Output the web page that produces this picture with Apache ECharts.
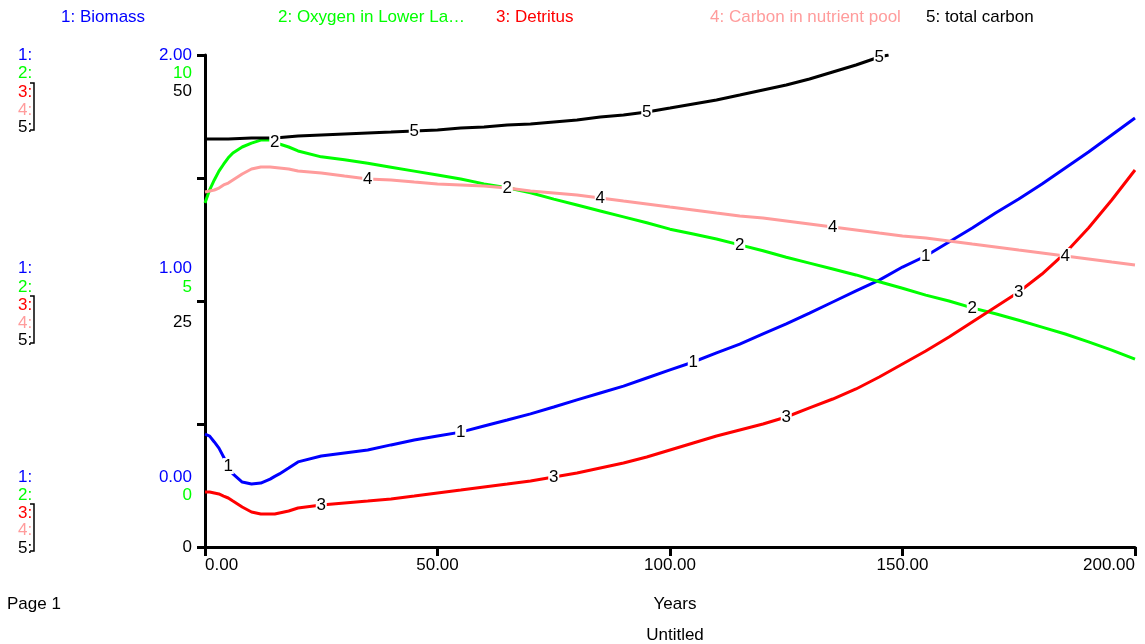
<!DOCTYPE html>
<html><head><meta charset="utf-8">
<script src="https://cdn.jsdelivr.net/npm/echarts/dist/echarts.min.js"></script>
<style>html,body{margin:0;padding:0;background:#fff}#c{width:1145px;height:644px}</style>
</head><body><div id="c"></div>
<script>
// ---- data ----
const years = [0,1,2,3,4,5,6,8,10,12,14,15,16,18,20,25,30,35,40,45,50,55,60,65,70,75,80,85,90,95,100,105,110,115,120,125,130,135,140,145,150,155,160,165,170,175,180,185,190,195,200];
const biomass = [0.459,0.451,0.427,0.402,0.366,0.329,0.297,0.264,0.256,0.260,0.276,0.287,0.297,0.321,0.346,0.370,0.382,0.394,0.415,0.435,0.451,0.467,0.492,0.516,0.541,0.569,0.598,0.626,0.654,0.687,0.720,0.752,0.789,0.825,0.866,0.907,0.951,0.996,1.041,1.085,1.138,1.183,1.240,1.297,1.358,1.415,1.476,1.541,1.606,1.675,1.744];
const oxygen = [6.99,7.26,7.46,7.64,7.78,7.91,8.01,8.13,8.21,8.27,8.27,8.23,8.19,8.13,8.05,7.93,7.87,7.80,7.72,7.64,7.56,7.48,7.38,7.30,7.20,7.07,6.95,6.83,6.71,6.59,6.46,6.36,6.26,6.14,6.02,5.89,5.77,5.65,5.53,5.39,5.26,5.12,5.00,4.86,4.74,4.61,4.47,4.33,4.17,4.00,3.82];
const detritus = [5.59,5.59,5.49,5.39,5.18,4.98,4.67,4.07,3.56,3.35,3.35,3.35,3.46,3.66,3.96,4.27,4.47,4.67,4.88,5.18,5.49,5.79,6.10,6.40,6.71,7.11,7.52,8.03,8.54,9.15,9.86,10.57,11.28,11.89,12.50,13.21,14.13,15.04,16.06,17.28,18.60,19.92,21.34,22.87,24.39,25.91,27.74,29.88,32.42,35.26,38.31];
const nutrientPool = [36.08,36.18,36.28,36.48,36.79,36.99,37.30,37.91,38.41,38.62,38.62,38.57,38.52,38.41,38.21,38.01,37.70,37.40,37.30,37.09,36.89,36.79,36.69,36.48,36.18,35.98,35.77,35.47,35.16,34.86,34.55,34.25,33.94,33.64,33.43,33.13,32.83,32.52,32.22,31.91,31.61,31.40,31.10,30.79,30.49,30.18,29.88,29.57,29.27,28.96,28.66];
const carbonYears = [0,5,10,15,20,25,30,35,40,45,50,55,60,65,70,75,80,85,90,95,100,105,110,115,120,125,130,135,140,145,147];
const totalCarbon = [41.46,41.46,41.57,41.57,41.77,41.87,41.97,42.07,42.17,42.28,42.38,42.58,42.68,42.89,42.99,43.19,43.39,43.70,43.90,44.21,44.61,45.02,45.43,45.93,46.44,46.95,47.56,48.27,48.98,49.80,50.00];

const seriesNames = ['1: Biomass','2: Oxygen in Lower La\u2026','3: Detritus','4: Carbon in nutrient pool','5: total carbon'];
const xTickLabels = ['0.00','50.00','100.00','150.00','200.00'];
const scaleTop = ['2.00','10','50'];
const scaleMid = ['1.00','5','25'];
const scaleBot = ['0.00','0','0'];
const labelTimes = [[5,55,105,155],[15,65,115,165],[25,75,125,175],[35,85,135,185],[45,95,145]];

// ---- chart ----
const FONT = '"Liberation Sans", Arial, sans-serif';
const FS = 17;
const colors = ['#0000ff','#00ff00','#ff0000','#ff9c9c','#000000'];
const chart = echarts.init(document.getElementById('c'), null, {renderer:'canvas'});

function pairs(ts, vs){ return ts.map((t,i)=>[t, vs[i]]); }
function marks(ts, vs, lts, txt){
  return {
    symbol:'rect', symbolSize:[11,16], itemStyle:{color:'#fff'}, z:10, silent:true, animation:false,
    label:{show:true, position:'inside', formatter:txt, color:'#000', fontSize:FS, fontFamily:FONT},
    data: lts.map(t=>({coord:[t, vs[ts.indexOf(t)]]}))
  };
}
const defs = [
  [years, biomass, 0], [years, oxygen, 1], [years, detritus, 2], [years, nutrientPool, 2], [carbonYears, totalCarbon, 2]
];
const series = defs.map((d,k)=>({
  name: seriesNames[k], type:'line', yAxisIndex:d[2], showSymbol:false, smooth:false,
  lineStyle:{color:colors[k], width:3}, itemStyle:{color:colors[k]},
  data: pairs(d[0], d[1]), z: 3,
  markPoint: marks(d[0], d[1], labelTimes[k], String(k+1))
}));

const graphic = [];
function txt(x,y,s,color,align){
  graphic.push({type:'text', x:x, y:y, silent:true, style:{text:s, fill:color, font:FS+'px '+FONT, textAlign:align||'left', textVerticalAlign:'middle'}});
}
// legend
const legendX = [61,278,496,710,926];
seriesNames.forEach((n,k)=>txt(legendX[k],17,n,colors[k]));
// left scale index columns
const groupY = [[55,73,92,110,127],[268,287,305,323,340],[477,495,513,530,548]];
groupY.forEach(g=>{
  g.forEach((y,k)=>txt(18,y,(k+1)+':',colors[k]));
  graphic.push({type:'polyline', silent:true, shape:{points:[[30,g[2]-9],[34,g[2]-9],[34,g[4]+3],[30,g[4]+3]]}, style:{stroke:'#000', lineWidth:1.5, fill:null}});
});
// scale values
txt(192,55,scaleTop[0],colors[0],'right'); txt(192,73,scaleTop[1],colors[1],'right'); txt(192,91,scaleTop[2],'#000','right');
txt(192,268,scaleMid[0],colors[0],'right'); txt(192,287,scaleMid[1],colors[1],'right'); txt(192,322,scaleMid[2],'#000','right');
txt(192,477,scaleBot[0],colors[0],'right'); txt(192,495,scaleBot[1],colors[1],'right'); txt(192,547,scaleBot[2],'#000','right');
// footer
txt(7,604,'Page 1','#000');
txt(675,604,'Years','#000','center');
txt(675,635,'Untitled','#000','center');

chart.setOption({
  animation:false,
  backgroundColor:'#fff',
  grid:{left:205, right:10, top:55, bottom:97, containLabel:false},
  xAxis:{type:'value', min:0, max:200, interval:50,
    axisLine:{show:true, lineStyle:{color:'#000', width:3}},
    axisTick:{show:true, length:9, lineStyle:{color:'#000', width:3}},
    axisLabel:{color:'#000', fontSize:FS, fontFamily:FONT, margin:10,
      formatter:(v)=>xTickLabels[Math.round(v/50)], alignMinLabel:'left', alignMaxLabel:'right'},
    splitLine:{show:false}},
  yAxis:[
    {type:'value', min:0, max:2, interval:0.5,
      axisLine:{show:true, lineStyle:{color:'#000', width:3}},
      axisTick:{show:true, length:8, lineStyle:{color:'#000', width:3}},
      axisLabel:{show:false}, splitLine:{show:false}},
    {type:'value', min:0, max:10, interval:2.5, show:false, splitLine:{show:false}},
    {type:'value', min:0, max:50, interval:12.5, show:false, splitLine:{show:false}}
  ],
  graphic: graphic,
  series: series
});
</script></body></html>
